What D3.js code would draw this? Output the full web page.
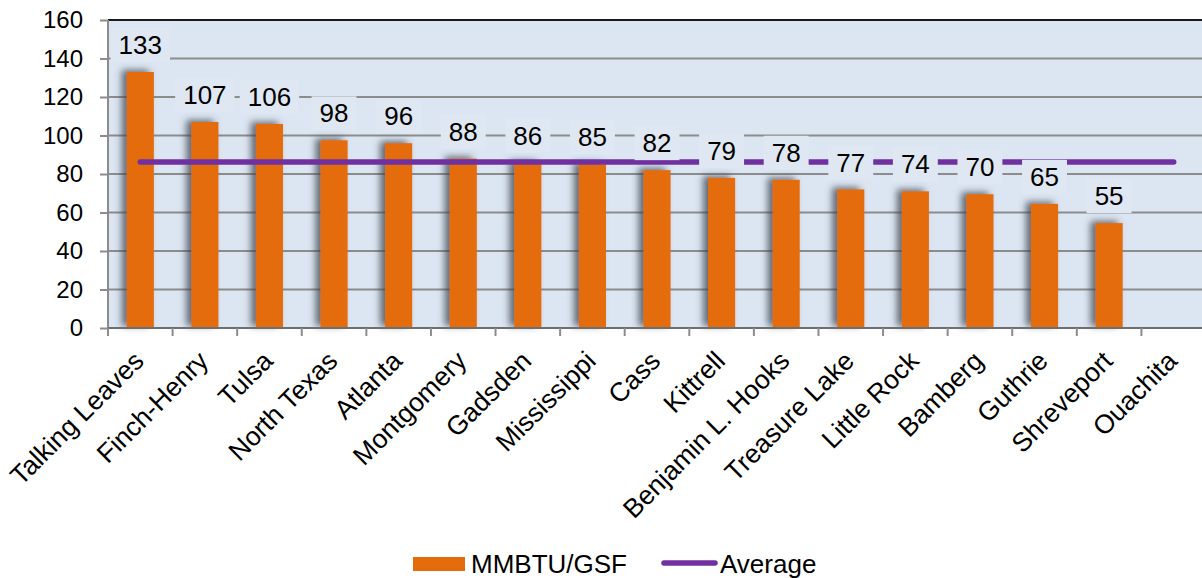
<!DOCTYPE html>
<html>
<head>
<meta charset="utf-8">
<script src="https://cdn.jsdelivr.net/npm/d3@7"></script>
<style>
  html, body { margin: 0; padding: 0; background: #fff; }
  svg { display: block; font-family: "Liberation Sans", Arial, sans-serif; }
</style>
</head>
<body>
<svg id="chart" width="1202" height="578"></svg>
<script>
const categories = ["Talking Leaves", "Finch-Henry", "Tulsa", "North Texas", "Atlanta", "Montgomery", "Gadsden", "Mississippi", "Cass", "Kittrell", "Benjamin L. Hooks", "Treasure Lake", "Little Rock", "Bamberg", "Guthrie", "Shreveport", "Ouachita"];
const barValues = [133, 107, 106, 97.5, 96, 88, 86, 85, 82, 78, 77, 72, 71, 69.5, 64.5, 54.5, null];
const labelTexts = ["133", "107", "106", "98", "96", "88", "86", "85", "82", "79", "78", "77", "74", "70", "65", "55", null];
const averageValues = [86.2, 86.2, 86.2, 86.2, 86.2, 86.2, 86.2, 86.2, 86.2, 86.2, 86.2, 86.2, 86.2, 86.2, 86.2, 86.2, 86.2];
const yTicks = [0, 20, 40, 60, 80, 100, 120, 140, 160];
const seriesNames = ["MMBTU/GSF", "Average"];

const svg = d3.select("#chart");
const margin = { left: 108, top: 20, right: -4, bottom: 250 };
const W = 1202, H = 578;
const x0 = margin.left, x1 = W - margin.right;
const y0 = H - margin.bottom, y1 = margin.top;

const x = d3.scaleBand().domain(categories).range([x0, x1]).paddingInner(0.58).paddingOuter(0.29);
const xc = d3.scalePoint().domain(categories).range([x0, x1]).padding(0.5);
const y = d3.scaleLinear().domain([0, 160]).range([y0, y1]);

const orange = "#e46c0a", purple = "#7030a0", bg = "#dce6f2";

const defs = svg.append("defs");
const f = defs.append("filter").attr("id", "shadow").attr("x", "-60%").attr("y", "-20%").attr("width", "200%").attr("height", "140%");
f.append("feDropShadow").attr("dx", -5).attr("dy", -2).attr("stdDeviation", 3.5).attr("flood-color", "#3a3f48").attr("flood-opacity", 0.75);

// plot background
svg.append("rect").attr("x", x0).attr("y", y1).attr("width", x1 - x0).attr("height", y0 - y1).attr("fill", bg);

// gridlines
svg.append("g").selectAll("line").data(yTicks.filter(d => d > 0 && d < 160)).join("line")
  .attr("x1", x0).attr("x2", x1).attr("y1", d => y(d)).attr("y2", d => y(d))
  .attr("stroke", "#8c8c8c").attr("stroke-width", 2);
// top border
svg.append("line").attr("x1", x0).attr("x2", x1).attr("y1", y(160)).attr("y2", y(160)).attr("stroke", "#1a1a1a").attr("stroke-width", 2);

// bars
svg.append("g").selectAll("rect").data(categories.map((c, i) => ({ c, v: barValues[i] })).filter(d => d.v != null)).join("rect")
  .attr("x", d => x(d.c)).attr("width", x.bandwidth())
  .attr("y", d => y(d.v)).attr("height", d => y(0) - y(d.v))
  .attr("fill", orange).attr("filter", "url(#shadow)");

// axes
const yAxis = d3.axisLeft(y).tickValues(yTicks).tickSize(8).tickPadding(17);
const gy = svg.append("g").attr("transform", `translate(${x0},0)`).call(yAxis);
gy.select(".domain").attr("stroke", "#8c8c8c").attr("stroke-width", 2).attr("d", `M0,${y0}V${y1}`);
gy.selectAll(".tick line").attr("stroke", "#8c8c8c").attr("stroke-width", 2);
gy.selectAll(".tick text").attr("font-size", 24).attr("fill", "#000").attr("font-family", "Liberation Sans, Arial, sans-serif");

const xAxis = d3.axisBottom(xc).tickSize(0);
const gx = svg.append("g").attr("transform", `translate(0,${y0})`).call(xAxis);
gx.select(".domain").attr("stroke", "#6e6e6e").attr("stroke-width", 2).attr("d", `M${x0},0H${x1}`);
gx.selectAll(".tick text")
  .attr("font-size", 26.5).attr("fill", "#000").attr("font-family", "Liberation Sans, Arial, sans-serif")
  .attr("text-anchor", "end").attr("transform", "translate(-9,21) rotate(-45)").attr("dy", "0.72em").attr("y", 0);
// category boundary ticks
const step = (x1 - x0) / categories.length;
svg.append("g").selectAll("line").data(d3.range(categories.length + 1)).join("line")
  .attr("x1", i => x0 + i * step).attr("x2", i => x0 + i * step)
  .attr("y1", y0).attr("y2", y0 + 8).attr("stroke", "#8c8c8c").attr("stroke-width", 2);

// average line
const line = d3.line().x((d, i) => xc(categories[i])).y(d => y(d));
svg.append("path").datum(averageValues).attr("d", line)
  .attr("fill", "none").attr("stroke", purple).attr("stroke-width", 5.5).attr("stroke-linecap", "round");

// data labels with boxes
const lg = svg.append("g");
categories.forEach((c, i) => {
  if (barValues[i] == null) return;
  const cx = xc(c), cy = y(barValues[i]) - 27;
  const g = lg.append("g");
  const t = g.append("text").attr("x", cx).attr("y", cy).attr("dy", "0.35em")
    .attr("text-anchor", "middle").attr("font-size", 26).attr("fill", "#000").text(labelTexts[i]);
  const bb = t.node().getBBox();
  g.insert("rect", "text").attr("x", bb.x - 8).attr("y", cy - 17).attr("width", bb.width + 16).attr("height", 34)
    .attr("fill", "#dfe7f2");
});

// legend
const leg = svg.append("g");
leg.append("rect").attr("x", 413).attr("y", 557).attr("width", 52).attr("height", 14).attr("fill", orange);
leg.append("text").attr("x", 471).attr("y", 573).attr("font-size", 26).attr("fill", "#000").text(seriesNames[0]);
leg.append("line").attr("x1", 664).attr("x2", 715).attr("y1", 563).attr("y2", 563)
  .attr("stroke", purple).attr("stroke-width", 5.5).attr("stroke-linecap", "round");
leg.append("text").attr("x", 720).attr("y", 573).attr("font-size", 26).attr("fill", "#000").text(seriesNames[1]);
</script>
</body>
</html>
